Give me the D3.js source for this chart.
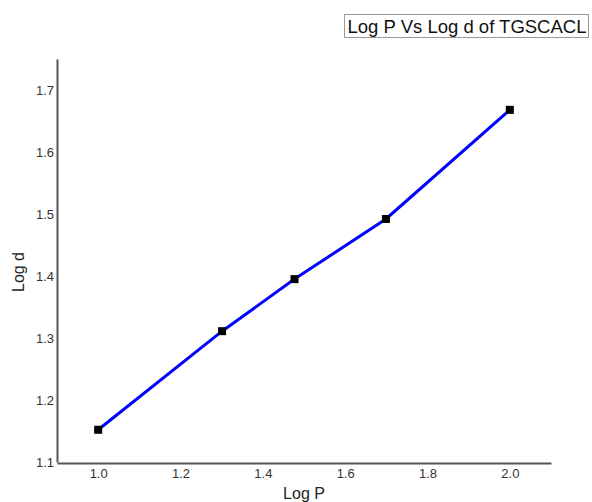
<!DOCTYPE html>
<html lang="en">
<head>
    <meta charset="UTF-8">
    <title>Log P Vs Log d of TGSCACL</title>
    <script src="https://d3js.org/d3.v7.min.js"></script>
    <style>
        body { margin: 0; background: #fff; font-family: "Liberation Sans", Arial, sans-serif; }
        .axis path { stroke: #555; stroke-width: 2; }
        .axis text { font-size: 13px; fill: #333; font-family: "Liberation Sans", Arial, sans-serif; }
        .axis-label { font-size: 16px; fill: #222; }
    </style>
</head>
<body>
    <svg id="chart" width="592" height="502"></svg>
    <script>
        // Data
        const logP = [1.0, 1.301, 1.477, 1.699, 2.0];
        const logD = [1.152, 1.311, 1.395, 1.492, 1.668];
        const xTicks = [1.0, 1.2, 1.4, 1.6, 1.8, 2.0];
        const yTicks = [1.1, 1.2, 1.3, 1.4, 1.5, 1.6, 1.7];
        const title = "Log P Vs Log d of TGSCACL";

        const points = logP.map((p, i) => ({ x: p, y: logD[i] }));

        const svg = d3.select("#chart");

        const x = d3.scaleLinear().domain([0.9, 2.1]).range([57, 551]);
        const y = d3.scaleLinear().domain([1.1, 1.75]).range([462, 59]);

        // Axes
        svg.append("g")
            .attr("class", "axis")
            .attr("transform", "translate(0,463)")
            .call(d3.axisBottom(x).tickValues(xTicks).tickSize(0).tickSizeOuter(0).tickPadding(6).tickFormat(d3.format(".1f")));

        svg.append("g")
            .attr("class", "axis")
            .attr("transform", "translate(57,0)")
            .call(d3.axisLeft(y).tickValues(yTicks).tickSize(0).tickSizeOuter(0).tickPadding(3).tickFormat(d3.format(".1f")));

        svg.append("text")
            .attr("class", "axis-label")
            .attr("x", 304)
            .attr("y", 499)
            .attr("text-anchor", "middle")
            .text("Log P");

        svg.append("text")
            .attr("class", "axis-label")
            .attr("transform", "translate(24,272) rotate(-90)")
            .attr("text-anchor", "middle")
            .text("Log d");

        // Line
        svg.append("path")
            .datum(points)
            .attr("fill", "none")
            .attr("stroke", "#0000ff")
            .attr("stroke-width", 3)
            .attr("d", d3.line().x(d => x(d.x)).y(d => y(d.y)));

        // Markers
        svg.selectAll(".pt")
            .data(points)
            .enter()
            .append("rect")
            .attr("class", "pt")
            .attr("x", d => x(d.x) - 4)
            .attr("y", d => y(d.y) - 4)
            .attr("width", 8)
            .attr("height", 8)
            .attr("fill", "#000");

        // Title box
        svg.append("rect")
            .attr("x", 344.5)
            .attr("y", 14.5)
            .attr("width", 244)
            .attr("height", 23)
            .attr("fill", "#fff")
            .attr("stroke", "#999");

        svg.append("text")
            .attr("x", 467)
            .attr("y", 33)
            .attr("text-anchor", "middle")
            .attr("font-size", "18.5px")
            .attr("fill", "#111")
            .text(title);
    </script>
</body>
</html>
